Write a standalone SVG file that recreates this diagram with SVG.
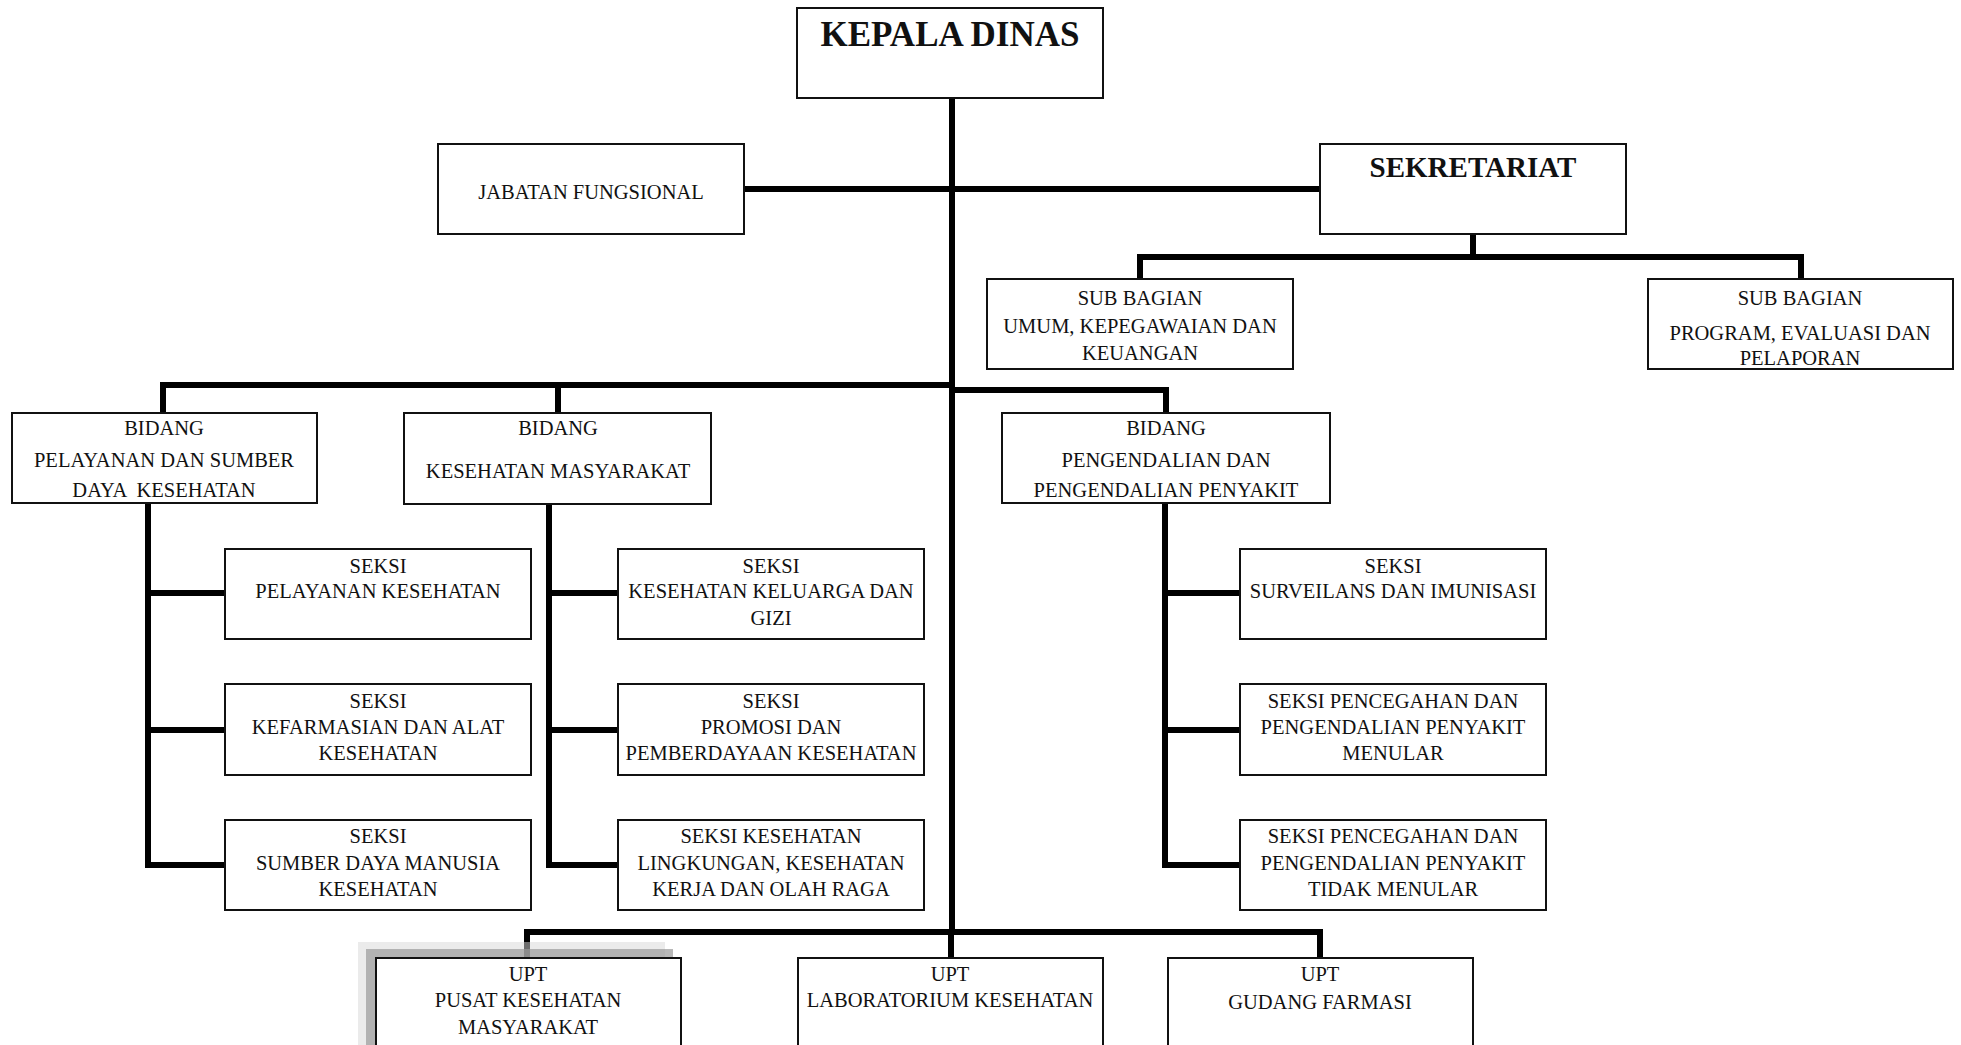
<svg xmlns="http://www.w3.org/2000/svg" width="1961" height="1045" viewBox="0 0 1961 1045">
<style>
.box{fill:#fff;stroke:#111;stroke-width:2}
.t{font-family:"Liberation Serif","Times New Roman",serif;font-size:20.5px;fill:#111;text-anchor:middle}
.b{font-weight:bold}
.c{fill:none;stroke:#000;stroke-width:6;stroke-linecap:square;stroke-linejoin:miter}
</style>
<rect width="1961" height="1045" fill="#fff"/>
<g id="connectors">
<path class="c" d="M952 98 V930"/>
<path class="c" d="M744 189 H1320"/>
<path class="c" d="M1473 234 V257 M1140 279 V257 H1801 V279"/>
<path class="c" d="M163 413 V385 H952 M558 385 V413 M952 390 H1166 V413"/>
<path class="c" d="M148 503 V865 H225 M148 593 H225 M148 730 H225"/>
<path class="c" d="M549 504 V865 H618 M549 593 H618 M549 730 H618"/>
<path class="c" d="M1165 503 V865 H1240 M1165 593 H1240 M1165 730 H1240"/>
<path class="c" d="M527 958 V932 H1320 V958 M951 932 V958"/>
</g>
<g id="kepala-dinas"><rect class="box" x="797" y="8" width="306" height="90"/><text class="t b" x="950" y="46" style="font-size:35px">KEPALA DINAS</text></g>
<g id="jabatan-fungsional"><rect class="box" x="438" y="144" width="306" height="90"/><text class="t" x="591" y="199">JABATAN FUNGSIONAL</text></g>
<g id="sekretariat"><rect class="box" x="1320" y="144" width="306" height="90"/><text class="t b" x="1473" y="177" style="font-size:29px">SEKRETARIAT</text></g>
<g id="subbag-umum"><rect class="box" x="987" y="279" width="306" height="90"/><text class="t" x="1140" y="305">SUB BAGIAN</text><text class="t" x="1140" y="333">UMUM, KEPEGAWAIAN DAN</text><text class="t" x="1140" y="360">KEUANGAN</text></g>
<g id="subbag-program"><rect class="box" x="1648" y="279" width="305" height="90"/><text class="t" x="1800" y="305">SUB BAGIAN</text><text class="t" x="1800" y="340">PROGRAM, EVALUASI DAN</text><text class="t" x="1800" y="365">PELAPORAN</text></g>
<g id="bidang-pelayanan"><rect class="box" x="12" y="413" width="305" height="90"/><text class="t" x="164" y="435">BIDANG</text><text class="t" x="164" y="467">PELAYANAN DAN SUMBER</text><text class="t" x="164" y="497" xml:space="preserve">DAYA  KESEHATAN</text></g>
<g id="bidang-kesmas"><rect class="box" x="404" y="413" width="307" height="91"/><text class="t" x="558" y="435">BIDANG</text><text class="t" x="558" y="478">KESEHATAN MASYARAKAT</text></g>
<g id="bidang-p2p"><rect class="box" x="1002" y="413" width="328" height="90"/><text class="t" x="1166" y="435">BIDANG</text><text class="t" x="1166" y="467">PENGENDALIAN DAN</text><text class="t" x="1166" y="497">PENGENDALIAN PENYAKIT</text></g>
<g id="seksi-pelkes"><rect class="box" x="225" y="549" width="306" height="90"/><text class="t" x="378" y="573">SEKSI</text><text class="t" x="378" y="598">PELAYANAN KESEHATAN</text></g>
<g id="seksi-farmasi"><rect class="box" x="225" y="684" width="306" height="91"/><text class="t" x="378" y="708">SEKSI</text><text class="t" x="378" y="734">KEFARMASIAN DAN ALAT</text><text class="t" x="378" y="760">KESEHATAN</text></g>
<g id="seksi-sdm"><rect class="box" x="225" y="820" width="306" height="90"/><text class="t" x="378" y="843">SEKSI</text><text class="t" x="378" y="870">SUMBER DAYA MANUSIA</text><text class="t" x="378" y="896">KESEHATAN</text></g>
<g id="seksi-kesga"><rect class="box" x="618" y="549" width="306" height="90"/><text class="t" x="771" y="573">SEKSI</text><text class="t" x="771" y="598">KESEHATAN KELUARGA DAN</text><text class="t" x="771" y="625">GIZI</text></g>
<g id="seksi-promkes"><rect class="box" x="618" y="684" width="306" height="91"/><text class="t" x="771" y="708">SEKSI</text><text class="t" x="771" y="734">PROMOSI DAN</text><text class="t" x="771" y="760">PEMBERDAYAAN KESEHATAN</text></g>
<g id="seksi-kesling"><rect class="box" x="618" y="820" width="306" height="90"/><text class="t" x="771" y="843">SEKSI KESEHATAN</text><text class="t" x="771" y="870">LINGKUNGAN, KESEHATAN</text><text class="t" x="771" y="896">KERJA DAN OLAH RAGA</text></g>
<g id="seksi-surveilans"><rect class="box" x="1240" y="549" width="306" height="90"/><text class="t" x="1393" y="573">SEKSI</text><text class="t" x="1393" y="598">SURVEILANS DAN IMUNISASI</text></g>
<g id="seksi-p2pm"><rect class="box" x="1240" y="684" width="306" height="91"/><text class="t" x="1393" y="708">SEKSI PENCEGAHAN DAN</text><text class="t" x="1393" y="734">PENGENDALIAN PENYAKIT</text><text class="t" x="1393" y="760">MENULAR</text></g>
<g id="seksi-p2ptm"><rect class="box" x="1240" y="820" width="306" height="90"/><text class="t" x="1393" y="843">SEKSI PENCEGAHAN DAN</text><text class="t" x="1393" y="870">PENGENDALIAN PENYAKIT</text><text class="t" x="1393" y="896">TIDAK MENULAR</text></g>
<g id="upt-puskesmas"><rect x="358" y="942" width="307" height="110" fill="#d8d8d8" fill-opacity="0.5"/><rect x="366" y="949" width="307" height="110" fill="#9a9a9a" fill-opacity="0.7"/><rect class="box" x="376" y="958" width="305" height="100"/><text class="t" x="528" y="981">UPT</text><text class="t" x="528" y="1007">PUSAT KESEHATAN</text><text class="t" x="528" y="1034">MASYARAKAT</text></g>
<g id="upt-labkes"><rect class="box" x="798" y="958" width="305" height="100"/><text class="t" x="950" y="981">UPT</text><text class="t" x="950" y="1007">LABORATORIUM KESEHATAN</text></g>
<g id="upt-gudang"><rect class="box" x="1168" y="958" width="305" height="100"/><text class="t" x="1320" y="981">UPT</text><text class="t" x="1320" y="1009">GUDANG FARMASI</text></g>
</svg>
